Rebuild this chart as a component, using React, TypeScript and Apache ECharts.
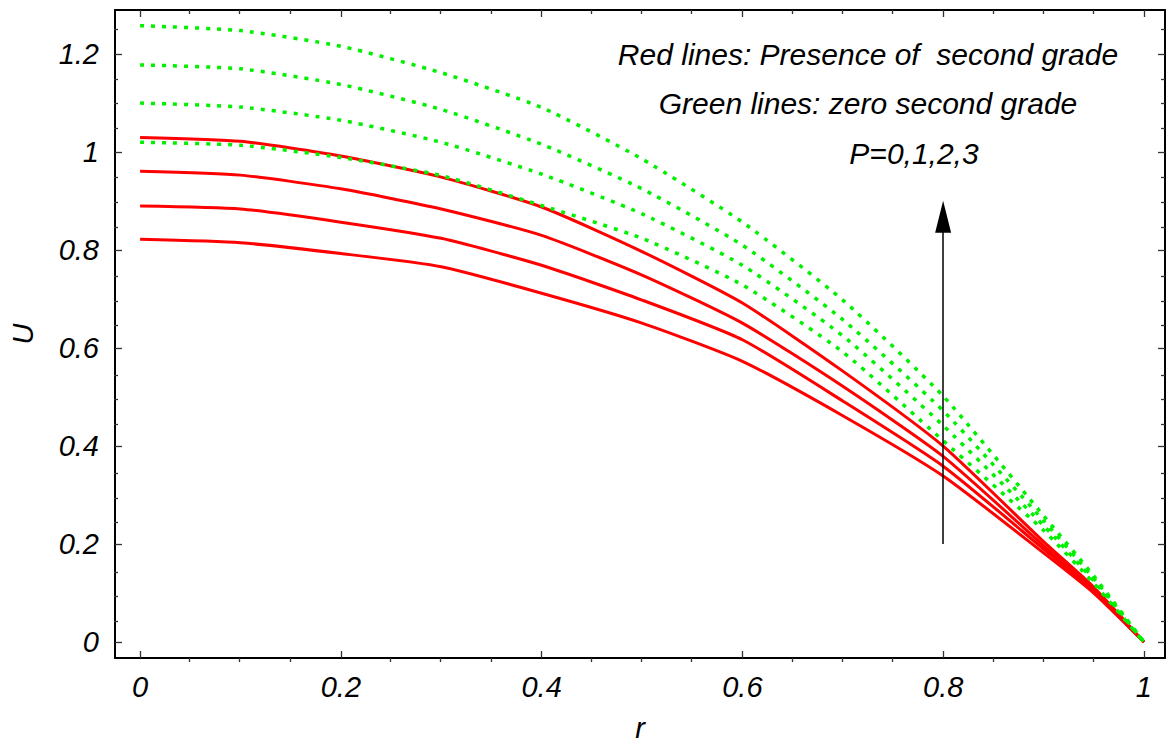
import React, { useEffect, useRef } from "react";
import * as echarts from "echarts";

// radial coordinate samples
const rValues = [0, 0.1, 0.2, 0.3, 0.4, 0.5, 0.6, 0.7, 0.8, 0.9, 0.95, 1];

// Red lines: presence of second grade (P = 3, 2, 1, 0 from top)
const redP3 = [1.03, 1.022, 0.992, 0.949, 0.888, 0.797, 0.692, 0.553, 0.4, 0.205, 0.112, 0];
const redP2 = [0.961, 0.953, 0.925, 0.884, 0.83, 0.749, 0.651, 0.522, 0.379, 0.197, 0.108, 0];
const redP1 = [0.89, 0.884, 0.857, 0.824, 0.769, 0.698, 0.617, 0.492, 0.359, 0.19, 0.104, 0];
const redP0 = [0.822, 0.815, 0.793, 0.766, 0.712, 0.651, 0.573, 0.462, 0.339, 0.182, 0.1, 0];

// Green lines: zero second grade (P = 3, 2, 1, 0 from top)
const greenP3 = [1.258, 1.248, 1.216, 1.162, 1.091, 0.986, 0.857, 0.698, 0.502, 0.258, 0.135, 0];
const greenP2 = [1.178, 1.17, 1.138, 1.087, 1.016, 0.925, 0.81, 0.658, 0.472, 0.248, 0.13, 0];
const greenP1 = [1.1, 1.092, 1.065, 1.02, 0.955, 0.874, 0.769, 0.625, 0.442, 0.238, 0.125, 0];
const greenP0 = [1.02, 1.014, 0.989, 0.952, 0.891, 0.824, 0.729, 0.592, 0.411, 0.228, 0.12, 0];

// tick values
const xMajorTicks = [0, 0.2, 0.4, 0.6, 0.8, 1];
const xMinorTicks = [0.05, 0.1, 0.15, 0.25, 0.3, 0.35, 0.45, 0.5, 0.55, 0.65, 0.7, 0.75, 0.85, 0.9, 0.95];
const yMajorTicks = [0, 0.2, 0.4, 0.6, 0.8, 1, 1.2];
const yMinorTicks = [0.05, 0.1, 0.15, 0.25, 0.3, 0.35, 0.45, 0.5, 0.55, 0.65, 0.7, 0.75, 0.85, 0.9, 0.95, 1.05, 1.1, 1.15, 1.25];

// annotation arrow (from r=0.8, U=0.2 upwards)
const arrowR = 0.8;
const arrowFrom = 0.2;
const arrowTo = 0.868;

const annotationLines = [
  "Red lines: Presence of  second grade",
  "Green lines: zero second grade",
  "P=0,1,2,3",
];

const X_MIN = -0.025;
const X_MAX = 1.021;
const Y_MIN = -0.0325;
const Y_MAX = 1.29;

const FONT = '"Liberation Sans", Arial, sans-serif';

export default function App() {
  const ref = useRef<HTMLDivElement>(null);

  useEffect(() => {
    if (!ref.current) return;
    const chart = echarts.init(ref.current, null, { renderer: "svg" });

    const fmt = (v: number) => String(Math.round(v * 10) / 10);
    const gridPos = { left: 114, right: 7, top: 10, bottom: 85 };
    const labelStyle = {
      fontFamily: FONT,
      fontStyle: "italic",
      fontSize: 29,
      color: "#000",
    };

    const mkX = (grid: number, pos: "bottom" | "top", major: boolean, withLabel: boolean, withName: boolean) => ({
      type: "value",
      gridIndex: grid,
      position: pos,
      min: X_MIN,
      max: X_MAX,
      name: withName ? "r" : "",
      nameLocation: "middle",
      nameGap: 55,
      nameTextStyle: { ...labelStyle },
      axisLine: { show: major, onZero: false, lineStyle: { color: "#000", width: 2 } },
      axisTick: {
        show: true,
        inside: true,
        length: major ? 7 : 4,
        customValues: major ? xMajorTicks : xMinorTicks,
        lineStyle: { color: "#333", width: 1.3 },
      },
      axisLabel: withLabel
        ? { show: true, customValues: xMajorTicks, formatter: fmt, margin: 14, ...labelStyle }
        : { show: false },
      splitLine: { show: false },
    });

    const mkY = (grid: number, pos: "left" | "right", major: boolean, withLabel: boolean, withName: boolean) => ({
      type: "value",
      gridIndex: grid,
      position: pos,
      min: Y_MIN,
      max: Y_MAX,
      name: withName ? "U" : "",
      nameLocation: "middle",
      nameGap: 78,
      nameTextStyle: { ...labelStyle },
      axisLine: { show: major, onZero: false, lineStyle: { color: "#000", width: 2 } },
      axisTick: {
        show: true,
        inside: true,
        length: major ? 7 : 4,
        customValues: major ? yMajorTicks : yMinorTicks,
        lineStyle: { color: "#333", width: 1.3 },
      },
      axisLabel: withLabel
        ? { show: true, customValues: yMajorTicks, formatter: fmt, margin: 16, ...labelStyle }
        : { show: false },
      splitLine: { show: false },
    });

    const toPairs = (arr: number[]) => rValues.map((r, i) => [r, arr[i]]);

    const redSeries = [redP3, redP2, redP1, redP0].map((arr, i) => ({
      type: "line",
      name: "red" + i,
      xAxisIndex: 0,
      yAxisIndex: 0,
      data: toPairs(arr),
      showSymbol: false,
      symbol: "none",
      smooth: 0.2,
      silent: true,
      lineStyle: { color: "#ff0000", width: 3 },
      z: 2,
    }));

    const greenSeries = [greenP3, greenP2, greenP1, greenP0].map((arr, i) => ({
      type: "line",
      name: "green" + i,
      xAxisIndex: 0,
      yAxisIndex: 0,
      data: toPairs(arr),
      showSymbol: false,
      symbol: "none",
      smooth: 0.2,
      silent: true,
      lineStyle: { color: "#00f000", width: 3.5, type: [4, 7], cap: "butt" },
      z: 3,
    }));

    const arrowSeries = {
      type: "line",
      name: "arrow",
      xAxisIndex: 0,
      yAxisIndex: 0,
      data: [],
      silent: true,
      markLine: {
        silent: true,
        animation: false,
        label: { show: false },
        lineStyle: { color: "#000", width: 1.5, type: "solid" },
        data: [
          [
            { coord: [arrowR, arrowFrom], symbol: "none" },
            { coord: [arrowR, arrowTo], symbol: "triangle", symbolSize: [16, 32] },
          ],
        ],
      },
      z: 4,
    };

    const textY = [54, 103, 153];
    const textX = [868, 868, 914];

    const option = {
      animation: false,
      backgroundColor: "#fff",
      grid: [
        { ...gridPos, containLabel: false },
        { ...gridPos, containLabel: false },
      ],
      xAxis: [
        mkX(0, "bottom", true, true, true),
        mkX(0, "top", true, false, false),
        mkX(1, "bottom", false, false, false),
        mkX(1, "top", false, false, false),
      ],
      yAxis: [
        mkY(0, "left", true, true, true),
        mkY(0, "right", true, false, false),
        mkY(1, "left", false, false, false),
        mkY(1, "right", false, false, false),
      ],
      series: [...redSeries, ...greenSeries, arrowSeries],
      graphic: annotationLines.map((t, i) => ({
        type: "text",
        x: textX[i],
        y: textY[i],
        silent: true,
        z: 10,
        style: {
          text: t,
          fontFamily: FONT,
          fontStyle: "italic",
          fontSize: 30,
          fill: "#000",
          align: "center",
          verticalAlign: "middle",
        },
      })),
    };

    chart.setOption(option as any);
    return () => chart.dispose();
  }, []);

  return (
    <div
      ref={ref}
      style={{ position: "fixed", left: 0, top: 0, width: 1172, height: 747, background: "#fff" }}
    />
  );
}
